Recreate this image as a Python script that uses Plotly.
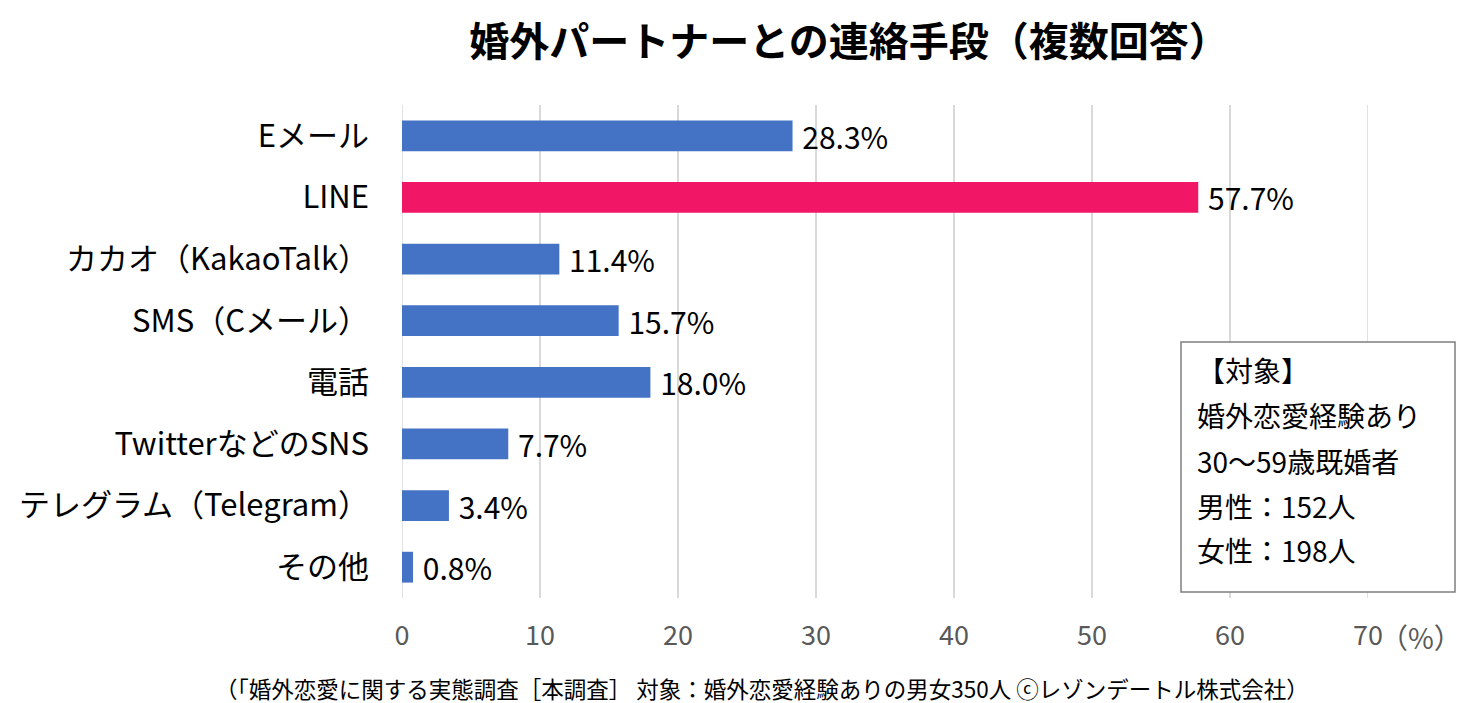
import plotly.graph_objects as go

categories = ['Eメール', 'LINE', 'カカオ（KakaoTalk）', 'SMS（Cメール）', '電話',
              'TwitterなどのSNS', 'テレグラム（Telegram）', 'その他']
values = [28.3, 57.7, 11.4, 15.7, 18.0, 7.7, 3.4, 0.8]
highlight = 'LINE'
x_ticks = [0, 10, 20, 30, 40, 50, 60, 70]
box_lines = ['【対象】', '婚外恋愛経験あり', '30～59歳既婚者', '男性：152人', '女性：198人']

font = 'Noto Sans CJK JP'
colors = ['#F21666' if c == highlight else '#4472C4' for c in categories]

fig = go.Figure()
fig.add_trace(go.Bar(
    x=values, y=categories, orientation='h',
    marker=dict(color=colors, line=dict(width=0)),
    text=[f' {v:.1f}%' for v in values], textposition='outside',
    constraintext='none',
    textfont=dict(size=30, color='black', family=font),
    cliponaxis=False,
))

fig.update_layout(
    width=1470, height=703,
    margin=dict(l=402, r=102, t=105, b=105),
    paper_bgcolor='white', plot_bgcolor='white',
    bargap=0.5, showlegend=False,
    font=dict(family=font),
    title=dict(text='<b>婚外パートナーとの連絡手段（複数回答）</b>',
               x=849 / 1470, xanchor='center', y=1 - 42 / 703, yanchor='middle',
               font=dict(size=40, color='black', family=font)),
)
fig.update_xaxes(range=[0, 70], tickvals=x_ticks, showgrid=True, gridcolor='#D9D9D9', gridwidth=1.5,
                 zeroline=False, showline=False,
                 tickfont=dict(size=27, color='#595959', family=font), ticklabelstandoff=19)
fig.update_yaxes(autorange='reversed', showgrid=False, showline=False,
                 tickfont=dict(size=31, color='black', family=font), ticklabelstandoff=32)

# edge grid lines (plotly drops them at the range edges)
for gx in [x_ticks[0], x_ticks[-1]]:
    fig.add_shape(type='line', xref='x', yref='paper', x0=gx, x1=gx, y0=0, y1=1,
                  line=dict(color='#D9D9D9', width=1.5), layer='below')

# "(%)" unit
fig.add_annotation(text='（%）', xref='paper', yref='paper', x=1.0, y=-39 / 493,
                   xanchor='left', yanchor='middle', showarrow=False, xshift=10,
                   font=dict(size=28, color='#595959', family=font))

# target box
px0, pw, py0, ph = 402, 966, 598, 493
fig.add_shape(type='rect', xref='paper', yref='paper',
              x0=(1181 - px0) / pw, x1=(1455 - px0) / pw,
              y0=(py0 - 592) / ph, y1=(py0 - 342) / ph,
              line=dict(color='#7F7F7F', width=1.5), fillcolor='white', layer='above')
line_y = [370, 415, 461, 506, 550]
for txt, yy in zip(box_lines, line_y):
    fig.add_annotation(text=txt, xref='paper', yref='paper',
                       x=(1195 - px0) / pw, y=(py0 - yy) / ph,
                       xanchor='left', yanchor='middle', showarrow=False,
                       font=dict(size=28, color='black', family=font))

# source footer
fig.add_annotation(text='（「婚外恋愛に関する実態調査［本調査］ 対象：婚外恋愛経験ありの男女350人 ⓒレゾンデートル株式会社）',
                   xref='paper', yref='paper', x=(762 - px0) / pw, y=(py0 - 688) / ph,
                   xanchor='center', yanchor='middle', showarrow=False,
                   font=dict(size=22.5, color='black', family=font))

fig.write_html('out.html', config={'displayModeBar': False},
               post_script="document.body.style.margin='0px';")
